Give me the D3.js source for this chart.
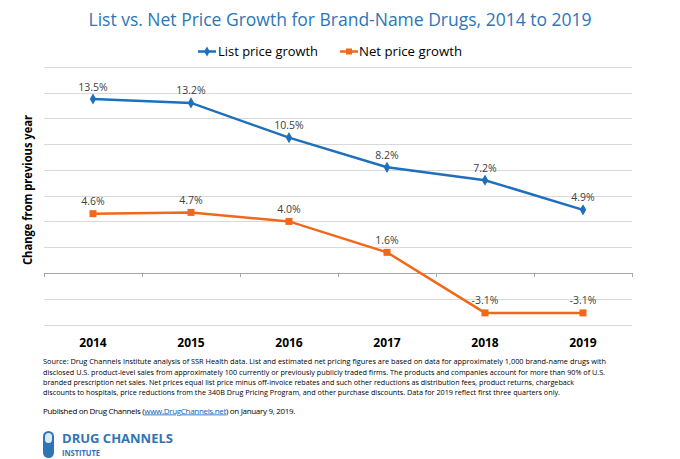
<!DOCTYPE html>
<html><head><meta charset="utf-8">
<script src="https://cdn.jsdelivr.net/npm/d3@7/dist/d3.min.js"></script>
<style>body{margin:0;background:#fff}svg{display:block}text{font-family:"Open Sans",sans-serif}</style>
</head><body>
<script>
const years = ["2014","2015","2016","2017","2018","2019"];
const listGrowth = [13.5, 13.2, 10.5, 8.2, 7.2, 4.9];
const netGrowth = [4.6, 4.7, 4.0, 1.6, -3.1, -3.1];
const yTicks = [-4,-2,0,2,4,6,8,10,12,14,16];
const seriesNames = ["List price growth","Net price growth"];
const sourceLines = [
"Source: Drug Channels Institute analysis of SSR Health data. List and estimated net pricing figures are based on data for approximately 1,000 brand-name drugs with",
"disclosed U.S. product-level sales from approximately 100 currently or previously publicly traded firms. The products and companies account for more than 90% of U.S.",
"branded prescription net sales. Net prices equal list price minus off-invoice rebates and such other reductions as distribution fees, product returns, chargeback",
"discounts to hospitals, price reductions from the 340B Drug Pricing Program, and other purchase discounts. Data for 2019 reflect first three quarters only."
];
const sourceWidths = [563, 562, 531, 517];
const publishedParts = ["Published on Drug Channels (", "www.DrugChannels.net", ") on January 9, 2019."];

const W=680,H=459;
const blue="#1F6FBA", orange="#F0691A", titleBlue="#2E75B6";
const svg=d3.select("body").append("svg").attr("width",W).attr("height",H);

const x=d3.scaleBand().domain(years).range([44,632]);
const y=d3.scaleLinear().domain([-4,16]).range([324.5,66.8]);

// grid
svg.append("g").selectAll("line").data(yTicks.filter(d=>d!==0)).join("line")
  .attr("x1",44).attr("x2",632).attr("y1",d=>Math.round(y(d))+0.5).attr("y2",d=>Math.round(y(d))+0.5)
  .attr("stroke","#D9D9D9").attr("stroke-width",1);
// zero axis
const ax=svg.append("g").attr("transform",`translate(0,${Math.round(y(0))+0.5})`)
  .call(d3.axisBottom(x).tickSize(0).tickFormat(""));
ax.select(".domain").attr("stroke","#A6A6A6").attr("d","M44,0H632");
svg.append("g").selectAll("line").data(d3.range(years.length+1)).join("line")
  .attr("x1",i=>Math.round(44+i*x.step())+0.5).attr("x2",i=>Math.round(44+i*x.step())+0.5)
  .attr("y1",Math.round(y(0))).attr("y2",Math.round(y(0))+4).attr("stroke","#A6A6A6");

// year labels
svg.append("g").selectAll("text").data(years).join("text")
  .attr("x",d=>x(d)+x.bandwidth()/2).attr("y",346.5).attr("text-anchor","middle")
  .attr("font-size",12).attr("font-weight","bold").attr("fill","#000").text(d=>d);

// y title
svg.append("text").attr("transform","translate(31.5,190) rotate(-90)")
  .attr("text-anchor","middle").attr("font-size",12).attr("font-weight","bold")
  .attr("fill","#000").attr("textLength",150).attr("lengthAdjust","spacingAndGlyphs")
  .text("Change from previous year");

const cx=(d,i)=>x(years[i])+x.bandwidth()/2;
const line=d3.line().x((d,i)=>cx(d,i)).y(d=>y(d));

svg.append("path").datum(listGrowth).attr("d",line).attr("fill","none").attr("stroke",blue).attr("stroke-width",2.5);
svg.append("path").datum(netGrowth).attr("d",line).attr("fill","none").attr("stroke",orange).attr("stroke-width",2.5);

svg.append("g").selectAll("path").data(listGrowth).join("path")
  .attr("d",d3.symbol(d3.symbolDiamond,36))
  .attr("transform",(d,i)=>`translate(${cx(d,i)},${y(d)})`).attr("fill",blue);
svg.append("g").selectAll("rect").data(netGrowth).join("rect")
  .attr("x",(d,i)=>cx(d,i)-3.5).attr("y",d=>y(d)-3.5).attr("width",7).attr("height",7).attr("fill",orange);

const lab=(arr)=>svg.append("g").selectAll("text").data(arr).join("text")
  .attr("x",(d,i)=>cx(d,i)).attr("y",d=>y(d)-8.5).attr("text-anchor","middle")
  .attr("font-size",10.5).attr("fill","#404040").text(d=>d.toFixed(1)+"%");
lab(listGrowth); lab(netGrowth);

// title
svg.append("text").attr("x",340).attr("y",26).attr("text-anchor","middle")
  .attr("font-size",19).attr("fill",titleBlue)
  .attr("textLength",503).attr("lengthAdjust","spacingAndGlyphs")
  .text("List vs. Net Price Growth for Brand-Name Drugs, 2014 to 2019");

// legend
const leg=[{n:seriesNames[0],c:blue,x0:198,tx:218,w:100,m:"d"},{n:seriesNames[1],c:orange,x0:340,tx:359,w:103,m:"s"}];
leg.forEach(l=>{
  svg.append("line").attr("x1",l.x0).attr("x2",l.x0+18).attr("y1",51.5).attr("y2",51.5).attr("stroke",l.c).attr("stroke-width",2.5);
  if(l.m==="d") svg.append("path").attr("d",d3.symbol(d3.symbolDiamond,30)).attr("transform",`translate(${l.x0+9},51.5)`).attr("fill",l.c);
  else svg.append("rect").attr("x",l.x0+6).attr("y",48.5).attr("width",6).attr("height",6).attr("fill",l.c);
  svg.append("text").attr("x",l.tx).attr("y",56).attr("font-size",13.5).attr("fill","#000")
    .attr("textLength",l.w).attr("lengthAdjust","spacingAndGlyphs").text(l.n);
});

// source
svg.append("g").selectAll("text").data(sourceLines).join("text")
  .attr("x",43).attr("y",(d,i)=>364.3+i*10.2).attr("font-size",8).attr("fill","#000")
  .attr("textLength",(d,i)=>sourceWidths[i]).attr("lengthAdjust","spacingAndGlyphs").text(d=>d);

// published line: one text, fitted by letter-spacing
const pub=svg.append("text").attr("x",43).attr("y",413.5).attr("font-size",8).attr("fill","#000");
publishedParts.forEach((t,i)=>{
  const ts=pub.append("tspan").text(t);
  if(i===1) ts.attr("fill","#0563C1").attr("text-decoration","underline");
});
const nat=pub.node().getComputedTextLength();
const nch=publishedParts.join("").length;
pub.attr("letter-spacing",((252-nat)/nch).toFixed(3)+"px");

// logo
const lg=svg.append("g");
lg.append("rect").attr("x",43).attr("y",431).attr("width",11).attr("height",27).attr("rx",5.5).attr("fill",titleBlue);
lg.append("rect").attr("x",45).attr("y",433).attr("width",7).attr("height",10).attr("rx",3.5).attr("fill","#DCEAF7");
lg.append("text").attr("x",62).attr("y",443).attr("font-size",12.5).attr("font-weight","bold").attr("fill",titleBlue)
  .attr("textLength",111).attr("lengthAdjust","spacingAndGlyphs").text("DRUG CHANNELS");
lg.append("text").attr("x",62).attr("y",455.5).attr("font-size",9.5).attr("font-weight","bold").attr("fill",titleBlue)
  .attr("textLength",38).attr("lengthAdjust","spacingAndGlyphs").text("INSTITUTE");
</script>
</body></html>
